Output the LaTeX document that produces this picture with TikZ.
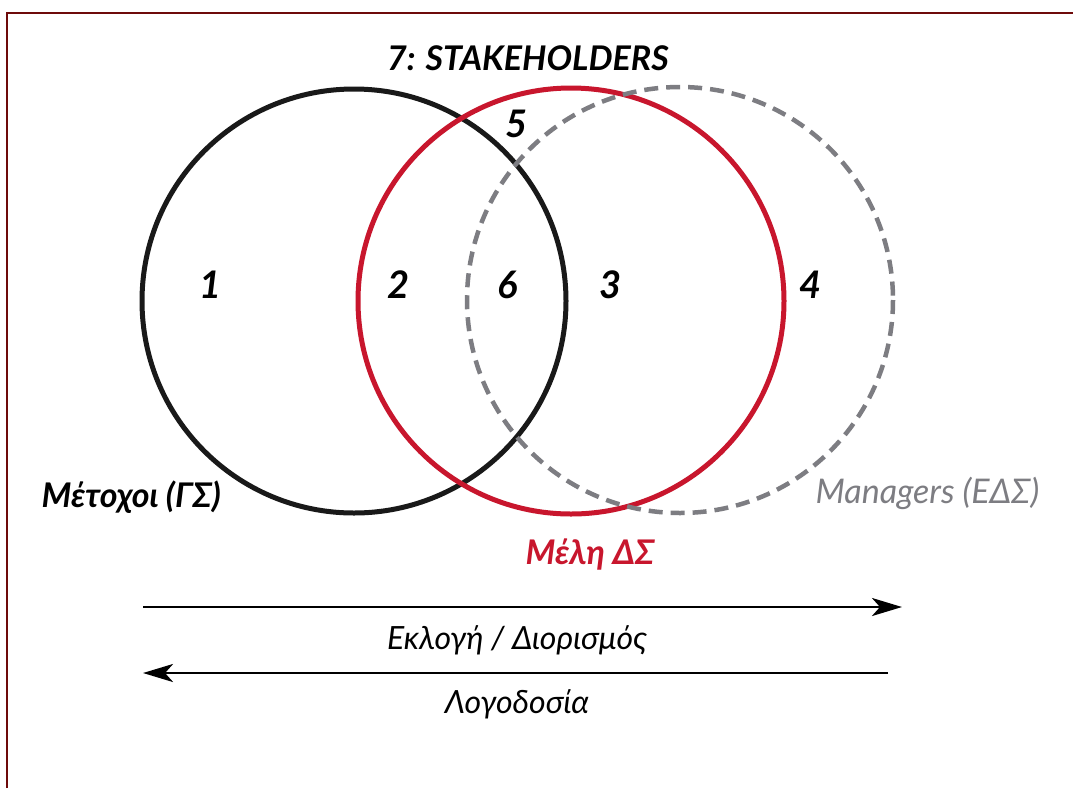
\documentclass[tikz,border=0pt]{standalone}
\usepackage{fontspec}
\setmainfont{Lato}
\usetikzlibrary{arrows.meta}
\definecolor{vred}{RGB}{200,22,45}
\definecolor{vgray}{RGB}{125,125,130}
\definecolor{frame}{RGB}{110,10,10}
\begin{document}
\begin{tikzpicture}[x=1pt,y=-1pt,
  digit/.style={font=\fontsize{38}{42}\selectfont\bfseries\itshape},
  lbl/.style={font=\fontsize{34}{40}\selectfont\bfseries\itshape},
  txt/.style={font=\fontsize{32}{38}\selectfont\itshape},
  flow/.style={line width=2.8pt,-{Stealth[length=30pt,width=18pt,inset=8pt]}}]
\useasboundingbox (0,0) rectangle (1073,788);
\fill[white] (0,0) rectangle (1073,788);
\draw[frame,line width=1.6pt] (7,788) -- (7,13) -- (1073,13);
% circles
\draw[black!90,line width=5pt] (354,301) circle[radius=212];
\draw[vred,line width=5pt] (571,301) circle[radius=213];
\draw[vgray,line width=4.5pt,dash pattern=on 14pt off 8pt] (680,300) circle[radius=213];
% title
\node[lbl] (title) at (528,58) {7: STAKEHOLDERS};
% digits
\node[digit] (n5) at (517,124) {5};
\node[digit] (n1) at (211,285) {1};
\node[digit] (n2) at (399,285) {2};
\node[digit] (n6) at (508,285) {6};
\node[digit] (n3) at (611,285) {3};
\node[digit] (n4) at (811,285) {4};
% labels
\node[lbl,anchor=west] (met) at (38,497) {Μέτοχοι (ΓΣ)};
\node[lbl,text=vred] (mel) at (590,555) {Μέλη ΔΣ};
\node[anchor=west,text=vgray,font=\fontsize{34}{40}\selectfont\itshape] (man) at (812,493) {Managers (ΕΔΣ)};
% arrows
\coordinate (a1s) at (143,607);
\coordinate (a1e) at (902,607);
\coordinate (a2s) at (888,673);
\coordinate (a2e) at (143,673);
\draw[flow] (a1s) -- (a1e);
\draw[flow] (a2s) -- (a2e);
\node[txt] (ekl) at (517,640) {Εκλογή / Διορισμός};
\node[txt] (log) at (517,704) {Λογοδοσία};
\end{tikzpicture}
\end{document}
